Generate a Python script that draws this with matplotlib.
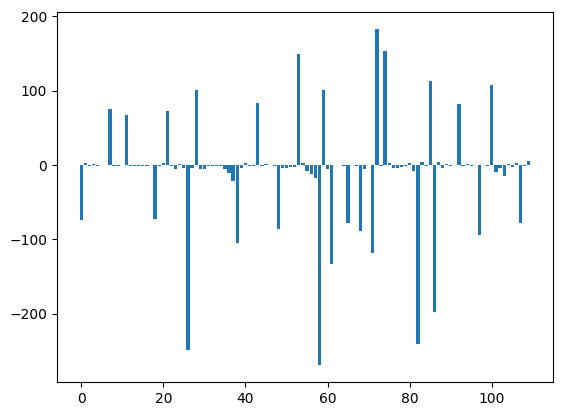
import matplotlib
matplotlib.use("Agg")
import matplotlib.pyplot as plt

# bar heights, index 0..109
values = [
    -74, 3, -1, 1, -1, 0, 0, 75, -1, -1,
    0, 67, -2, -1, -2, -1, -1, 0, -72, -2,
    3, 72, -1, -5, 1, -4, -248, -4, 101, -5,
    -6, -2, -2, -1, -1, -6, -11, -21, -105, -4,
    3, -2, -1, 83, -2, 1, 0, -1, -86, -4,
    -4, -3, -3, 149, 3, -8, -12, -17, -269, 101,
    -5, -133, 0, 0, -2, -78, 0, -2, -89, -5,
    0, -118, 183, -1, 153, 3, -4, -4, -3, -1,
    3, -8, -240, 4, -1, 113, -197, 4, -4, 1,
    -1, 0, 82, -1, 1, -1, 0, -94, 0, -2,
    107, -9, -4, -15, 1, -3, 3, -78, -1, 5,
]
positions = list(range(len(values)))

fig = plt.figure(figsize=(5.63, 4.15), dpi=100)
ax = fig.add_axes([57 / 563, 33 / 415, 496 / 563, 370 / 415])
ax.bar(positions, values, color="#1f77b4")

fig.savefig("out.png", dpi=100)
